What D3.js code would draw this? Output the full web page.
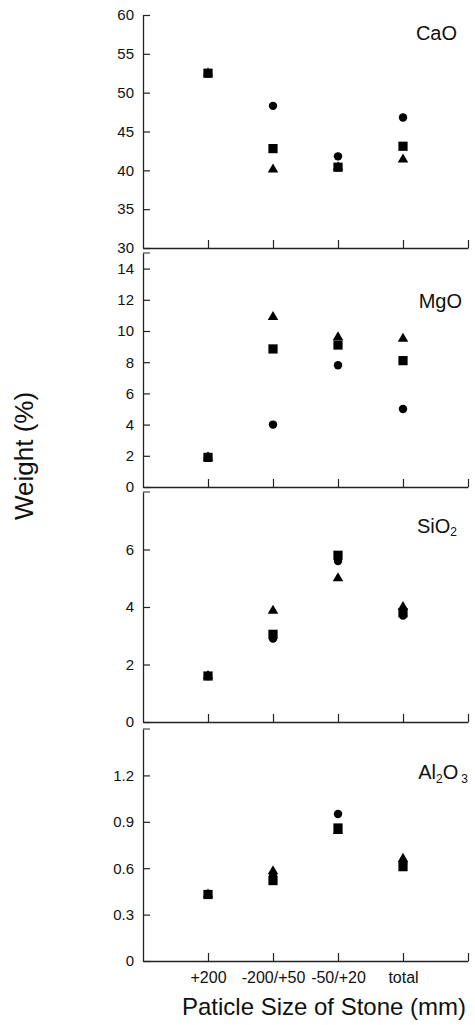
<!DOCTYPE html>
<html>
<head>
<meta charset="utf-8">
<script src="https://cdn.jsdelivr.net/npm/d3@7"></script>
<style>
    body { margin: 0; background: #fff; }
    svg { font-family: "Liberation Sans", Arial, Helvetica, sans-serif; }
</style>
</head>
<body>
<div id="chart"></div>
<script>
// Particle size categories along the shared x axis
const categories = ["+200", "-200/+50", "-50/+20", "total"];

// CaO weight (%) for the three stones (circle, square, triangle markers)
const caoCircle = [52.5, 48.3, 41.8, 46.8];
const caoSquare = [52.5, 42.8, 40.4, 43.1];
const caoTriangle = [52.5, 40.1, 40.4, 41.4];
const caoDomain = [30, 60];
const caoTicks = [30, 35, 40, 45, 50, 55, 60];

// MgO
const mgoCircle = [1.9, 4.0, 7.8, 5.0];
const mgoSquare = [1.9, 8.85, 9.1, 8.1];
const mgoTriangle = [1.9, 10.9, 9.6, 9.5];
const mgoDomain = [0, 15];
const mgoTicks = [0, 2, 4, 6, 8, 10, 12, 14];

// SiO2
const sio2Circle = [1.6, 2.9, 5.6, 3.7];
const sio2Square = [1.6, 3.05, 5.8, 3.8];
const sio2Triangle = [1.6, 3.87, 5.0, 4.0];
const sio2Domain = [0, 8];
const sio2Ticks = [0, 2, 4, 6];

// Al2O3
const al2o3Circle = [0.43, 0.55, 0.95, 0.63];
const al2o3Square = [0.43, 0.52, 0.86, 0.61];
const al2o3Triangle = [0.43, 0.58, 0.84, 0.66];
const al2o3Domain = [0, 1.5];
const al2o3Ticks = [0, 0.3, 0.6, 0.9, 1.2];

const panels = [
    {name: "CaO", sub: null, domain: caoDomain, ticks: caoTicks, series: [caoCircle, caoTriangle, caoSquare]},
    {name: "MgO", sub: null, domain: mgoDomain, ticks: mgoTicks, series: [mgoCircle, mgoTriangle, mgoSquare]},
    {name: "SiO2", sub: "sio2", domain: sio2Domain, ticks: sio2Ticks, series: [sio2Circle, sio2Triangle, sio2Square]},
    {name: "Al2O3", sub: "al2o3", domain: al2o3Domain, ticks: al2o3Ticks, series: [al2o3Circle, al2o3Triangle, al2o3Square]}
];

// Layout (pixel positions of each panel and its label)
const width = 475, height = 1025;
const plotLeft = 143, plotRight = 468;
const panelTops = [15, 253, 492, 729];
const panelBottoms = [248, 487, 722, 961];
const labelBaselines = [40, 308, 533, 779];
const labelRights = [457, 462, 457, 468];

const svg = d3.select("#chart")
    .append("svg")
    .attr("width", width)
    .attr("height", height);

// Shared x scale: categories sit at 1..4, axis runs to 5
const x = d3.scaleLinear()
    .domain([0, categories.length + 1])
    .range([plotLeft, plotRight]);

const markerTypes = [
    d3.symbol().type(d3.symbolCircle).size(56),
    d3.symbol().type(d3.symbolTriangle).size(48),
    d3.symbol().type(d3.symbolSquare).size(85)
];

panels.forEach((p, pi) => {
    const top = panelTops[pi], bottom = panelBottoms[pi];

    const y = d3.scaleLinear()
        .domain(p.domain)
        .range([bottom, top]);

    const g = svg.append("g");

    // Left axis, ticks pointing inward
    const yAxis = g.append("g")
        .attr("transform", `translate(${plotLeft},0)`)
        .call(d3.axisLeft(y)
            .tickValues(p.ticks)
            .tickSize(-7)
            .tickSizeOuter(0)
            .tickPadding(9)
            .tickFormat(d3.format("~g")));

    // tick at the top of the axis when it is not labelled
    if (p.ticks[p.ticks.length - 1] !== p.domain[1]) {
        yAxis.append("line")
            .attr("x1", 0).attr("x2", 7)
            .attr("y1", y(p.domain[1])).attr("y2", y(p.domain[1]))
            .attr("stroke", "#222");
    }

    // Bottom axis, ticks pointing up; labels only on last panel
    const isLast = pi === panels.length - 1;
    g.append("g")
        .attr("transform", `translate(0,${bottom})`)
        .call(d3.axisBottom(x)
            .tickValues(d3.range(1, categories.length + 2))
            .tickSize(-8)
            .tickSizeOuter(0)
            .tickPadding(11)
            .tickFormat(i => isLast ? (categories[i - 1] || "") : ""));

    g.selectAll(".domain").attr("stroke", "#222").attr("stroke-width", 1.3);
    g.selectAll(".tick line").attr("stroke", "#222").attr("stroke-width", 1.2);
    g.selectAll(".tick text")
        .attr("fill", "#111")
        .style("font-size", "15px");
    if (isLast) {
        g.selectAll("g.tick text")
            .filter(function () { return this.getAttribute("y") > 0; })
            .style("font-size", "16px");
    }

    // Markers
    p.series.forEach((values, si) => {
        g.selectAll(`.m${si}`)
            .data(values)
            .enter()
            .append("path")
            .attr("class", `m${si}`)
            .attr("d", markerTypes[si])
            .attr("transform", (d, i) => `translate(${x(i + 1)},${y(d)})`)
            .attr("fill", "#000");
    });

    // Oxide label in the upper right
    const label = g.append("text")
        .attr("x", labelRights[pi])
        .attr("y", labelBaselines[pi])
        .attr("text-anchor", "end")
        .style("font-size", "20px")
        .attr("fill", "#111");
    if (p.sub === "sio2") {
        label.append("tspan").text("SiO");
        label.append("tspan").attr("dy", 3).style("font-size", "12px").text("2");
    } else if (p.sub === "al2o3") {
        label.append("tspan").text("Al");
        label.append("tspan").attr("dy", 4).style("font-size", "12px").text("2");
        label.append("tspan").attr("dy", -4).text("O");
        label.append("tspan").attr("dx", 3).attr("dy", 4).style("font-size", "12px").text("3");
    } else {
        label.text(p.name);
    }
});

// Y axis title
svg.append("text")
    .attr("transform", "translate(33,456) rotate(-90)")
    .attr("text-anchor", "middle")
    .style("font-size", "26px")
    .attr("fill", "#111")
    .text("Weight (%)");

// X axis title
svg.append("text")
    .attr("x", 324)
    .attr("y", 1015)
    .attr("text-anchor", "middle")
    .style("font-size", "24px")
    .attr("fill", "#111")
    .text("Paticle Size of Stone (mm)");
</script>
</body>
</html>
